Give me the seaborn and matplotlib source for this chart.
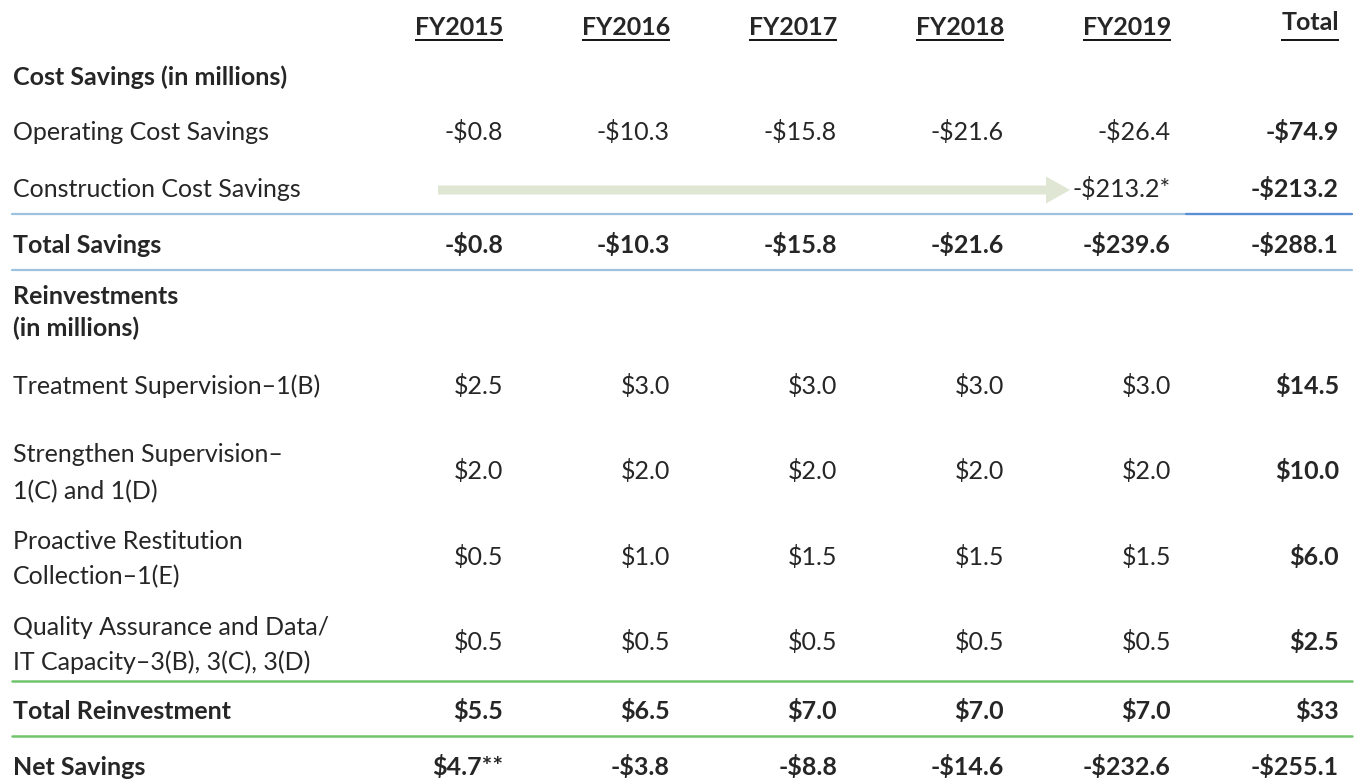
import matplotlib
matplotlib.use("Agg")
import matplotlib.pyplot as plt
import seaborn as sns

# базовые настройки
sns.set_theme(style="white")
plt.rcParams["font.family"] = ["Lato", "DejaVu Sans"]

# данные таблицы (млн долларов)
years = ["FY2015", "FY2016", "FY2017", "FY2018", "FY2019"]
operating = [-0.8, -10.3, -15.8, -21.6, -26.4]
operating_total = -74.9
construction_fy2019 = -213.2
construction_total = -213.2
total_savings = [-0.8, -10.3, -15.8, -21.6, -239.6]
total_savings_total = -288.1

treatment = [2.5, 3.0, 3.0, 3.0, 3.0]
treatment_total = 14.5
strengthen = [2.0, 2.0, 2.0, 2.0, 2.0]
strengthen_total = 10.0
restitution = [0.5, 1.0, 1.5, 1.5, 1.5]
restitution_total = 6.0
quality = [0.5, 0.5, 0.5, 0.5, 0.5]
quality_total = 2.5
total_reinvest = [5.5, 6.5, 7.0, 7.0, 7.0]
total_reinvest_total = 33
net_savings = [4.7, -3.8, -8.8, -14.6, -232.6]
net_savings_total = -255.1


def fmt(v, dec=1):
    s = f"${abs(v):.{dec}f}"
    return "-" + s if v < 0 else s


W, H = 1356, 780
fig = plt.figure(figsize=(W / 100, H / 100), dpi=100)
ax = fig.add_axes([0, 0, 1, 1])
ax.set_xlim(0, W)
ax.set_ylim(H, 0)
ax.axis("off")

FS = 18
DASH = "\u2013"
col_x = [503, 670, 837, 1004, 1171]
total_x = 1339
left_x = 13


def row(y, values, total, bold=False, total_dec=1):
    w = "bold" if bold else "normal"
    for x, v in zip(col_x, values):
        ax.text(x, y, fmt(v), ha="right", va="baseline", fontsize=FS, fontweight=w)
    ax.text(total_x, y, fmt(total, total_dec), ha="right", va="baseline",
            fontsize=FS, fontweight="bold")


def label(y, text, bold=False):
    ax.text(left_x, y, text, ha="left", va="baseline", fontsize=FS,
            fontweight="bold" if bold else "normal")


# заголовки с подчёркиванием
fig.canvas.draw()
renderer = fig.canvas.get_renderer()
inv = ax.transData.inverted()
for x, y, t in list(zip(col_x, [35] * 5, years)) + [(total_x, 30, "Total")]:
    txt = ax.text(x, y, t, ha="right", va="baseline", fontsize=FS, fontweight="bold")
    bb = txt.get_window_extent(renderer)
    x0 = inv.transform((bb.x0, bb.y0))[0]
    ax.plot([x0, x], [40, 40], color="black", lw=1.3, solid_capstyle="butt")

# экономия
label(85, "Cost Savings (in millions)", bold=True)
label(140, "Operating Cost Savings")
row(140, operating, operating_total)
label(197, "Construction Cost Savings")
ax.arrow(438, 190, 632, 0, width=9, head_width=27, head_length=24,
         length_includes_head=True, color="#dfe7d4", lw=0)
ax.text(col_x[-1], 197, fmt(construction_fy2019) + "*", ha="right", va="baseline", fontsize=FS)
ax.text(total_x, 197, fmt(construction_total), ha="right", va="baseline",
        fontsize=FS, fontweight="bold")

ax.plot([12, 1352], [214, 214], color="#9cc2e0", lw=1.6)
ax.plot([1186, 1352], [214, 214], color="#5b8fd3", lw=1.6)
label(253, "Total Savings", bold=True)
row(253, total_savings, total_savings_total, bold=True)
ax.plot([12, 1352], [270, 270], color="#9cc2e0", lw=1.6)

# реинвестиции
label(304, "Reinvestments", bold=True)
label(336, "(in millions)", bold=True)
label(394, "Treatment Supervision" + DASH + "1(B)")
row(394, treatment, treatment_total)
label(462, "Strengthen Supervision" + DASH)
label(499, "1(C) and 1(D)")
row(479, strengthen, strengthen_total)
label(549, "Proactive Restitution")
label(584, "Collection" + DASH + "1(E)")
row(565, restitution, restitution_total)
label(635, "Quality Assurance and Data/")
label(670, "IT Capacity" + DASH + "3(B), 3(C), 3(D)")
row(650, quality, quality_total)

ax.plot([12, 1352], [681, 681], color="#70c46c", lw=1.8)
label(719, "Total Reinvestment", bold=True)
row(719, total_reinvest, total_reinvest_total, bold=True, total_dec=0)
ax.plot([12, 1352], [736, 736], color="#70c46c", lw=1.8)

label(775, "Net Savings", bold=True)
net_labels = [fmt(v) for v in net_savings]
net_labels[0] += "**"
for x, t in zip(col_x, net_labels):
    ax.text(x, 775, t, ha="right", va="baseline", fontsize=FS, fontweight="bold")
ax.text(total_x, 775, fmt(net_savings_total), ha="right", va="baseline",
        fontsize=FS, fontweight="bold")

fig.savefig("out.png", dpi=100, facecolor="white")
